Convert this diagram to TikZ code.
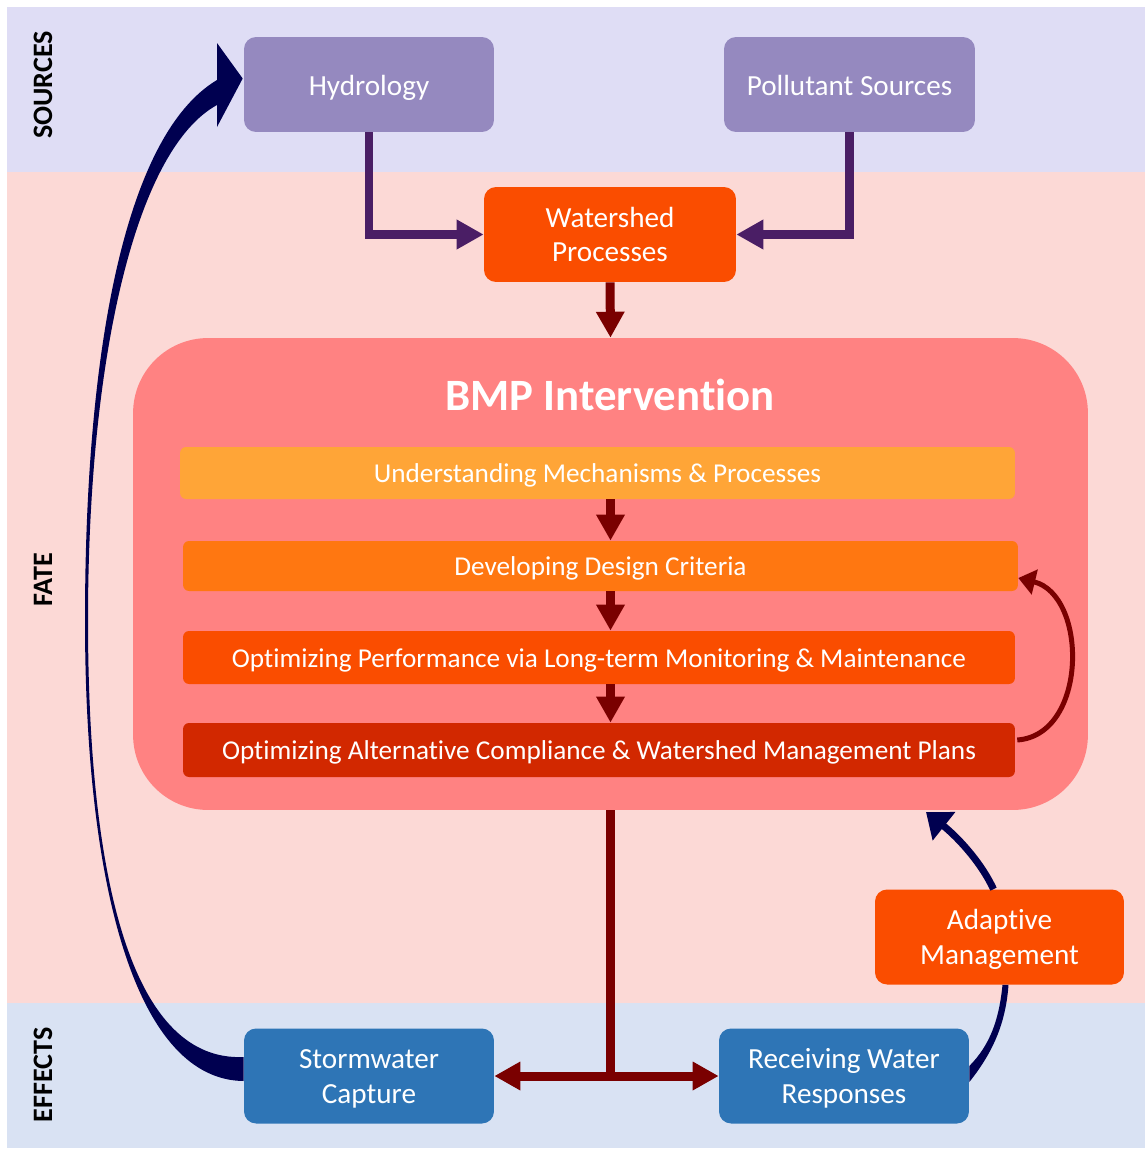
\documentclass[tikz,border=0pt]{standalone}
\usepackage{fontspec}
\setmainfont{Carlito}[Ligatures=NoCommon, Contextuals=NoAlternate]
\usetikzlibrary{arrows.meta,calc}
\definecolor{srcband}{RGB}{223,221,245}
\definecolor{fateband}{RGB}{252,217,214}
\definecolor{effband}{RGB}{217,226,243}
\definecolor{purp}{RGB}{149,137,191}
\definecolor{ored}{RGB}{250,77,0}
\definecolor{blu}{RGB}{46,117,182}
\definecolor{bmpc}{RGB}{255,130,130}
\definecolor{bonec}{RGB}{255,165,55}
\definecolor{btwoc}{RGB}{255,119,17}
\definecolor{bfourc}{RGB}{210,40,0}
\definecolor{dred}{RGB}{122,0,0}
\definecolor{purparrow}{RGB}{74,30,101}
\definecolor{navy}{RGB}{0,0,80}
\newcommand{\lblfont}{\fontsize{16.6}{19.4}\selectfont}
\newcommand{\barfont}{\fontsize{15.5}{18}\selectfont}
\newcommand{\natsp}{\hspace{\fontdimen2\font}}
\tikzset{
  box/.style={rounded corners=0.24cm, minimum width=5cm, minimum height=1.9cm, text=white, font=\lblfont, inner sep=0pt, text height=13pt, text depth=0pt},
  twobox/.style={box, text width=4.8cm, align=center, text height=12pt, text depth=20pt},
  barbox/.style={rounded corners=0.12cm, minimum width=16.7cm, text=white, font=\barfont, inner sep=0pt, text height=11.2pt, text depth=0pt},
  purpArr/.style={draw=purparrow, line width=0.17cm, -{Triangle[width=0.56cm,length=0.54cm]}},
  redArr/.style={draw=dred, line width=0.18cm, -{Triangle[width=0.54cm,length=0.52cm]}},
  sidelbl/.style={rotate=90, font=\bfseries\fontsize{16}{18}\selectfont, text=black},
}
\begin{document}
\begin{tikzpicture}[x=0.02cm,y=-0.02cm]
\useasboundingbox (0,0) rectangle (1145,1150);
\fill[white] (0,0) rectangle (1145,1150);
\fill[srcband] (7,7) rectangle (1145,172);
\fill[fateband] (7,172) rectangle (1145,1003);
\fill[effband] (7,1003) rectangle (1145,1148);

\node[sidelbl] (lsrc) at (43,85) {SOURCES};
\node[sidelbl] (lfate) at (43,580) {FATE};
\node[sidelbl] (leff) at (43,1075) {EFFECTS};

\node[box, fill=purp] (hyd) at (369,84.5) {Hydrology};
\node[box, fill=purp, minimum width=5.02cm] (pol) at (849.5,84.5) {Pollutant Sources};
\node[twobox, fill=ored, minimum width=5.04cm] (ws) at (610,234.5) {Watershed\\Processes};
\node[fill=bmpc, rounded corners=1.5cm, minimum width=19.1cm, minimum height=9.44cm, inner sep=0pt] (bmp) at (610.5,574) {};
\node[text=white, font=\bfseries\fontsize{25.5}{28}\selectfont] (title) at (610,395) {BMP Intervention};
\node[barbox, fill=bonec, minimum height=1.04cm] (b1) at (597.5,473) {Understanding Mechanisms \& Processes};
\node[barbox, fill=btwoc, minimum height=1.0cm] (b2) at (600.5,566) {Developing Design Criteria};
\node[barbox, fill=ored, minimum width=16.64cm, minimum height=1.06cm] (b3) at (599,657.5) {Optimizing Performance via Long-term Monitoring \& Maintenance};
\node[barbox, fill=bfourc, minimum width=16.64cm, minimum height=1.08cm] (b4) at (599,750) {Optimizing Alternative Compliance \& Watershed Management Plans};
\node[twobox, fill=blu] (sw) at (369,1076) {Stormwater\\Capture};
\node[twobox, fill=blu] (rw) at (844,1076) {Receiving\natsp Water\\Responses};
\node[twobox, fill=ored, minimum width=4.98cm] (ad) at (999.5,937) {Adaptive\\Management};

% purple inputs
\draw[purpArr] (hyd.south) |- (ws.west);
\draw[purpArr] (pol.south) |- (ws.east);
% dark red flow
\draw[redArr] (ws.south) -- (bmp.north);
\draw[redArr] (b1.south -| bmp.north) -- (b2.north -| bmp.north);
\draw[redArr] (b2.south -| bmp.north) -- (b3.north -| bmp.north);
\draw[redArr] (b3.south -| bmp.north) -- (b4.north -| bmp.north);
\coordinate (junc) at (bmp.south |- sw.east);
\draw[draw=dred, line width=0.18cm] (bmp.south) -- (junc);
\draw[redArr] (junc) -- (sw.east);
\draw[redArr] (junc) -- (rw.west);
% feedback loop inside BMP
\draw[draw=dred, line width=0.1cm, -{Triangle[width=0.5cm,length=0.34cm]}] ($(b4.east)+(2,-10)$) .. controls (1088,735) and (1088,595) .. ($(b2.east)+(0,12)$);
% big navy return arrow
\fill[navy] ($(sw.west)+(0,5)$) .. controls (140,1080) and (85,900) .. (85,620)
  .. controls (85,350) and (125,135) .. (217,80) -- (217,43) -- ($(hyd.west)+(-1,-6)$) -- (217,127) -- (217,105)
  .. controls (135,150) and (88,360) .. (88,620)
  .. controls (88,890) and (135,1062) .. ($(sw.west)+(0,-19)$) -- cycle;
% adaptive management loop
\fill[navy] ($(rw.east)+(0,6)$) .. controls (995,1050) and (1006,1020) .. ($(ad.south)+(9,0)$) -- ($(ad.south)+(3,0)$) .. controls (999,1020) and (990,1045) .. ($(rw.east)+(0,-10)$) -- cycle;
\coordinate (amtip) at (926,812);
\draw[draw=navy, line width=0.14cm, -{Triangle[width=0.7cm,length=0.46cm]}] ($(ad.north)+(-6,0)$) .. controls (980,860) and (955,835) .. (amtip);
\end{tikzpicture}
\end{document}
